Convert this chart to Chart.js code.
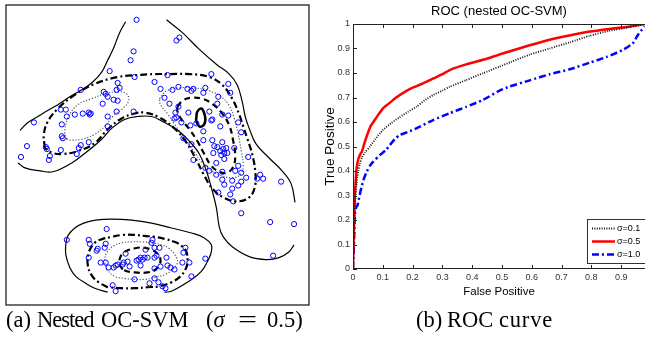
<!DOCTYPE html>
<html>
<head>
<meta charset="utf-8">
<script src="https://cdn.jsdelivr.net/npm/chart.js@4.4.1/dist/chart.umd.min.js"></script>
<style>
  body { margin: 0; width: 645px; height: 338px; background: #fff; position: relative; overflow: hidden; }
  #scatter { position: absolute; left: 0; top: 0; }
  #roc { position: absolute; left: 310px; top: 0; }
  .cap { position: absolute; top: 309px; font-family: "Liberation Serif", "Times New Roman", serif; font-size: 22.5px; line-height: 22px; white-space: nowrap; color: #000; }
</style>
</head>
<body>
<canvas id="scatter" width="314" height="310"></canvas>
<canvas id="roc" width="335" height="305"></canvas>
<span class="cap" style="left:6px">(a)</span>
<span class="cap" style="left:37px;letter-spacing:-1px">Nested</span>
<span class="cap" style="left:101px">OC-SVM</span>
<span class="cap" style="left:206px">(<i>σ</i></span>
<span class="cap" style="left:238px;transform:scaleX(1.5);transform-origin:left">=</span>
<span class="cap" style="left:267px">0.5)</span>
<span class="cap" style="left:416px">(b)</span>
<span class="cap" style="left:447px">ROC</span>
<span class="cap" style="left:499px;letter-spacing:0.8px">curve</span>
<script>
// ---- left panel: samples (picture coordinates, y grows downward)
const samples = [
  [137,17],[134,49],[131,58],[110,69],[135,75],[118,81],[120,86],[117,88],[81,88],[104,90],
  [106,92],[108,95],[114,98],[118,99],[103,102],[117,110],[134,110],[108,115],[108,125],[61,108],
  [66,108],[67,115],[75,113],[83,112],[89,111],[90,113],[91,112],[34,121],[62,123],[62,135],
  [63,137],[27,145],[46,146],[47,148],[61,149],[81,144],[79,147],[89,141],[77,153],[50,155],
  [49,159],[21,156],
  [177,38],[180,35],[168,73],[212,72],[155,80],[161,87],[173,88],[179,85],[188,87],[192,89],
  [194,87],[204,91],[206,86],[229,82],[231,91],[165,96],[170,102],[219,95],[218,102],[179,105],
  [176,111],[177,116],[189,111],[210,110],[213,118],[223,113],[229,114],[175,117],[182,121],[191,124],
  [197,122],[204,130],[212,119],[221,125],[239,121],[242,131],[184,137],[192,143],[204,139],[213,139],
  [215,145],[218,146],[223,141],[227,147],[224,148],[221,150],[225,152],[228,152],[222,154],[214,152],
  [225,158],[235,147],[194,159],[217,162],[206,167],[210,170],[217,174],[223,171],[239,165],[242,172],
  [236,170],[249,156],[223,179],[225,184],[233,180],[233,188],[242,181],[239,185],[247,177],[258,178],
  [261,174],[264,178],[282,181],[219,192],[231,194],[234,201],[242,213],[271,222],[295,224],[274,256],
  [67,240],[107,229],[89,240],[90,244],[98,249],[97,251],[105,248],[106,244],[89,258],[101,263],
  [106,263],[109,268],[114,268],[116,266],[118,265],[123,265],[124,263],[128,262],[126,254],[130,267],
  [137,261],[139,260],[141,258],[143,260],[145,258],[148,258],[155,258],[141,266],[146,250],[153,240],
  [152,243],[155,248],[160,248],[157,256],[155,269],[161,267],[167,258],[168,266],[171,268],[175,270],
  [135,280],[113,286],[116,292],[150,284],[155,279],[159,283],[163,287],[166,289],[186,248],[184,253],
  [183,263],[190,263],[192,277],[206,259]
];

// contour lines
const solidUpperLeft = [[126,19],[120,30],[115,43],[112,50],[108,58],[102,70],[93,80],[82,88],[70,95],[58,103],[46,110],[38,115],[28,121],[20,129]];
const solidUpperRight = [[167,17],[183,30],[200,47],[217,62],[230,72],[238,83],[243,100],[246,115],[250,127],[257,143],[270,157],[283,170],[292,183],[296,202]];
const solidBanana = [[18,162],[25,167],[40,170],[53,171],[72,162],[88,150],[102,138],[112,127],[125,118],[138,115],[152,115],[163,120],[177,128],[190,140],[200,153],[207,170],[212,187],[217,207],[220,227],[224,237],[233,247],[250,257],[267,260],[280,258],[290,252],[295,245]];
const solidBlob1 = [[108,293],[95,289],[86,284],[76,277],[70,268],[66,255],[66,245],[68,236],[75,228],[84,223],[96,220],[112,219],[132,220],[152,223],[172,228],[192,233],[205,238],[212,245],[212,252],[210,258],[202,272],[188,283],[172,292],[165,293]];
const dashDotBanana = [[45,147],[44,133],[48,120],[58,107],[75,93],[95,82],[118,75],[138,73],[155,72],[170,72],[190,72],[210,75],[223,83],[233,97],[240,113],[244,125],[248,137],[253,153],[256,170],[256,185],[250,197],[237,201],[224,197],[213,188],[204,173],[196,157],[186,140],[175,127],[160,116],[145,111],[135,112],[122,117],[108,128],[95,142],[78,150],[63,153],[53,152],[45,147]];
const dashDotBlob = [[108,288],[99,283],[92,276],[88,265],[89,253],[95,243],[103,239],[112,237],[123,235],[135,235],[145,236],[155,237],[165,239],[175,242],[182,246],[187,252],[188,263],[186,270],[181,277],[172,283],[160,287],[148,288],[135,289],[122,289],[108,288]];
const dottedLeftLobe = [[67,138],[65,131],[68,117],[78,103],[92,97],[105,92],[118,90],[127,92],[129,99],[123,107],[113,115],[105,125],[95,133],[82,138],[72,139],[67,138]];
const dottedRightLobe = [[160,97],[167,89],[180,86],[195,86],[210,89],[222,95],[230,104],[235,117],[239,133],[242,150],[244,165],[241,174],[233,177],[222,175],[212,170],[203,162],[195,151],[186,138],[176,124],[168,112],[161,103],[160,97]];
const dottedBlob = [[107,270],[105,262],[107,253],[114,246],[122,243],[132,242],[142,242],[152,243],[162,245],[170,249],[176,256],[178,263],[174,269],[166,275],[155,278],[145,280],[135,280],[125,279],[115,277],[107,270]];
const dashedRightLobe = [[178,105],[183,99],[192,96],[203,97],[214,103],[223,112],[230,124],[234,140],[236,155],[234,166],[228,172],[220,171],[212,165],[205,153],[198,140],[190,128],[182,118],[178,110],[178,105]];
const dashedBlob = [[123,270],[120,265],[120,260],[122,255],[127,251],[138,248],[145,248],[152,250],[158,254],[161,260],[160,265],[156,270],[148,273],[135,273],[128,272],[123,270]];
const innerPeak = [[197,115],[198,110],[202,107],[205,112],[206,119],[204,124],[200,125],[197,120],[197,115]];

// ---- right panel: ROC curves
const seriesLabels = ['σ=0.1', 'σ=0.5', 'σ=1.0'];
const fpSigma01 = [0,0.002,0.005,0.008,0.012,0.018,0.023,0.03,0.04,0.057,0.075,0.1,0.13,0.157,0.185,0.213,0.24,0.269,0.3,0.325,0.38,0.436,0.492,0.53,0.593,0.66,0.727,0.794,0.86,0.928,0.98];
const tpSigma01 = [0,0.1,0.2,0.29,0.35,0.4,0.43,0.455,0.475,0.5,0.53,0.567,0.597,0.62,0.642,0.662,0.688,0.71,0.728,0.744,0.771,0.799,0.826,0.845,0.875,0.9,0.925,0.952,0.972,0.987,1];
const fpSigma05 = [0,0.002,0.004,0.006,0.009,0.012,0.018,0.025,0.03,0.04,0.05,0.06,0.074,0.085,0.1,0.12,0.145,0.17,0.2,0.235,0.27,0.3,0.33,0.38,0.44,0.49,0.53,0.59,0.66,0.73,0.79,0.86,0.93,0.98];
const tpSigma05 = [0,0.12,0.2,0.3,0.36,0.41,0.45,0.47,0.48,0.52,0.555,0.585,0.61,0.63,0.655,0.675,0.7,0.72,0.74,0.758,0.778,0.795,0.815,0.835,0.855,0.875,0.89,0.912,0.936,0.954,0.968,0.98,0.99,1];
const fpSigma10 = [0,0.002,0.004,0.007,0.01,0.015,0.022,0.029,0.037,0.046,0.056,0.068,0.09,0.11,0.124,0.14,0.157,0.185,0.213,0.269,0.325,0.38,0.436,0.492,0.526,0.593,0.66,0.727,0.794,0.85,0.905,0.939,0.956,0.978];
const tpSigma10 = [0,0.06,0.13,0.23,0.25,0.26,0.3,0.336,0.37,0.397,0.42,0.438,0.465,0.485,0.506,0.53,0.547,0.56,0.574,0.608,0.636,0.662,0.69,0.728,0.745,0.77,0.795,0.815,0.842,0.865,0.894,0.921,0.955,0.99];
const xTickValues = [0,0.1,0.2,0.3,0.4,0.5,0.6,0.7,0.8,0.9];
const xTickLabels = ['0','0.1','0.2','0.3','0.4','0.5','0.6','0.7','0.8','0.9'];
const yTickValues = [0,0.1,0.2,0.3,0.4,0.5,0.6,0.7,0.8,0.9,1];
const yTickLabels = ['0','0.1','0.2','0.3','0.4','0.5','0.6','0.7','0.8','0.9','1'];

Chart.defaults.font.family = '"Liberation Sans", Arial, sans-serif';

const toXY = pts => pts.map(([x, y]) => ({ x, y }));

const contourStyles = {
  solid:   { borderColor: '#000', borderWidth: 1.2, borderDash: [] },
  dashDot: { borderColor: '#000', borderWidth: 2.2, borderDash: [7, 3, 2, 3] },
  dotted:  { borderColor: '#555', borderWidth: 1.2, borderDash: [1.2, 1.8] },
  dashed:  { borderColor: '#000', borderWidth: 2.2, borderDash: [6, 4] },
  peak:    { borderColor: '#000', borderWidth: 2.6, borderDash: [] }
};
const contours = [
  [solidUpperLeft, 'solid'], [solidUpperRight, 'solid'], [solidBanana, 'solid'], [solidBlob1, 'solid'],
  [dashDotBanana, 'dashDot'], [dashDotBlob, 'dashDot'],
  [dottedLeftLobe, 'dotted'], [dottedRightLobe, 'dotted'], [dottedBlob, 'dotted'],
  [dashedRightLobe, 'dashed'], [dashedBlob, 'dashed'],
  [innerPeak, 'peak']
];

// box around a plot area
const frameBox = {
  id: 'frameBox',
  afterDraw(chart) {
    const { ctx, chartArea: a } = chart;
    ctx.save();
    ctx.strokeStyle = '#222';
    ctx.lineWidth = 1.3;
    ctx.strokeRect(a.left, a.top, a.right - a.left, a.bottom - a.top);
    ctx.restore();
  }
};

new Chart(document.getElementById('scatter'), {
  type: 'scatter',
  data: {
    datasets: [{
      data: toXY(samples),
      showLine: false,
      pointRadius: 2.6,
      pointBorderWidth: 1,
      pointBorderColor: '#0000ff',
      pointBackgroundColor: 'rgba(0,0,0,0)'
    }].concat(contours.map(([pts, style]) => Object.assign({
      data: toXY(pts),
      showLine: true,
      pointRadius: 0,
      tension: 0.4,
      fill: false
    }, contourStyles[style])))
  },
  options: {
    responsive: false,
    animation: false,
    events: [],
    layout: { padding: { left: 6, right: 4, top: 2, bottom: 4 } },
    scales: {
      x: { type: 'linear', min: 6, max: 310, display: false },
      y: { type: 'linear', min: 2, max: 306, reverse: true, display: false }
    },
    plugins: { legend: { display: false }, tooltip: { enabled: false } }
  },
  plugins: [frameBox]
});

// ROC axes: box, inward ticks, title and legend
const rocFrame = {
  id: 'rocFrame',
  afterDraw(chart) {
    const { ctx, chartArea: a, scales: { x, y } } = chart;
    ctx.save();
    ctx.strokeStyle = '#222';
    ctx.lineWidth = 1;
    ctx.beginPath();
    ctx.moveTo(a.right, a.top + 0.5); ctx.lineTo(a.left + 0.5, a.top + 0.5);
    ctx.lineTo(a.left + 0.5, a.bottom - 0.5); ctx.lineTo(a.right, a.bottom - 0.5);
    x.ticks.forEach(t => {
      const p = Math.round(x.getPixelForValue(t.value)) + 0.5;
      ctx.moveTo(p, a.bottom); ctx.lineTo(p, a.bottom - 4);
      ctx.moveTo(p, a.top); ctx.lineTo(p, a.top + 4);
    });
    y.ticks.forEach(t => {
      const p = Math.round(y.getPixelForValue(t.value)) + 0.5;
      ctx.moveTo(a.left, p); ctx.lineTo(a.left + 4, p);
    });
    ctx.stroke();

    ctx.fillStyle = '#000';
    ctx.font = '13px "Liberation Sans", Arial, sans-serif';
    ctx.textAlign = 'center';
    ctx.textBaseline = 'middle';
    ctx.fillText('ROC (nested OC-SVM)', (a.left + a.right) / 2, 11);

    const bx = a.right - 58, by = a.bottom - 50;
    ctx.fillStyle = '#fff';
    ctx.fillRect(bx, by, 62, 44);
    ctx.strokeStyle = '#333';
    ctx.strokeRect(bx + 0.5, by + 0.5, 62, 44);
    ctx.textAlign = 'left';
    ctx.font = '9px "Liberation Sans", Arial, sans-serif';
    chart.data.datasets.forEach((ds, i) => {
      const ly = by + 9.5 + i * 13;
      ctx.beginPath();
      ctx.setLineDash(ds.borderDash || []);
      ctx.strokeStyle = ds.borderColor;
      ctx.lineWidth = ds.borderWidth;
      ctx.moveTo(bx + 5, ly); ctx.lineTo(bx + 28, ly);
      ctx.stroke();
      ctx.setLineDash([]);
      ctx.fillStyle = '#000';
      ctx.fillText(ds.label, bx + 30, ly);
    });
    ctx.restore();
  }
};

const rocStyles = [
  { borderColor: '#111', borderWidth: 1.8, borderDash: [1, 1.4] },
  { borderColor: '#ff0000', borderWidth: 2.5, borderDash: [] },
  { borderColor: '#0000ff', borderWidth: 2.5, borderDash: [7, 3, 2, 3] }
];
const rocData = [[fpSigma01, tpSigma01], [fpSigma05, tpSigma05], [fpSigma10, tpSigma10]];

new Chart(document.getElementById('roc'), {
  type: 'scatter',
  data: {
    datasets: rocData.map(([fp, tp], i) => Object.assign({
      label: seriesLabels[i],
      data: fp.map((v, j) => ({ x: v, y: tp[j] })),
      showLine: true,
      pointRadius: 0,
      tension: 0.2
    }, rocStyles[i]))
  },
  options: {
    responsive: false,
    animation: false,
    events: [],
    layout: { padding: { top: 24, right: 0, left: 0, bottom: 0 } },
    scales: {
      x: {
        type: 'linear', min: 0, max: 0.98, bounds: 'data',
        afterBuildTicks: s => { s.ticks = xTickValues.map(v => ({ value: v })); },
        afterFit: s => { s.height = 36; },
        grid: { display: false, drawTicks: false },
        border: { display: false },
        ticks: { autoSkip: false, maxRotation: 0, padding: 3.5, color: '#333', font: { size: 9 },
                 callback: (v, i) => xTickLabels[i] },
        title: { display: true, text: 'False Positive', color: '#000', font: { size: 11.5 }, padding: { top: 0, bottom: 6 } }
      },
      y: {
        type: 'linear', min: 0, max: 1, bounds: 'data',
        afterBuildTicks: s => { s.ticks = yTickValues.map(v => ({ value: v })); },
        afterFit: s => { s.width = 43; },
        grid: { display: false, drawTicks: false },
        border: { display: false },
        ticks: { autoSkip: false, padding: 3, color: '#333', font: { size: 9 },
                 callback: (v, i) => yTickLabels[i] },
        title: { display: true, text: 'True Positive', color: '#000', font: { size: 13.5 }, padding: { top: 12, bottom: 0 } }
      }
    },
    plugins: { legend: { display: false }, tooltip: { enabled: false }, title: { display: false } }
  },
  plugins: [rocFrame]
});
</script>
</body>
</html>
